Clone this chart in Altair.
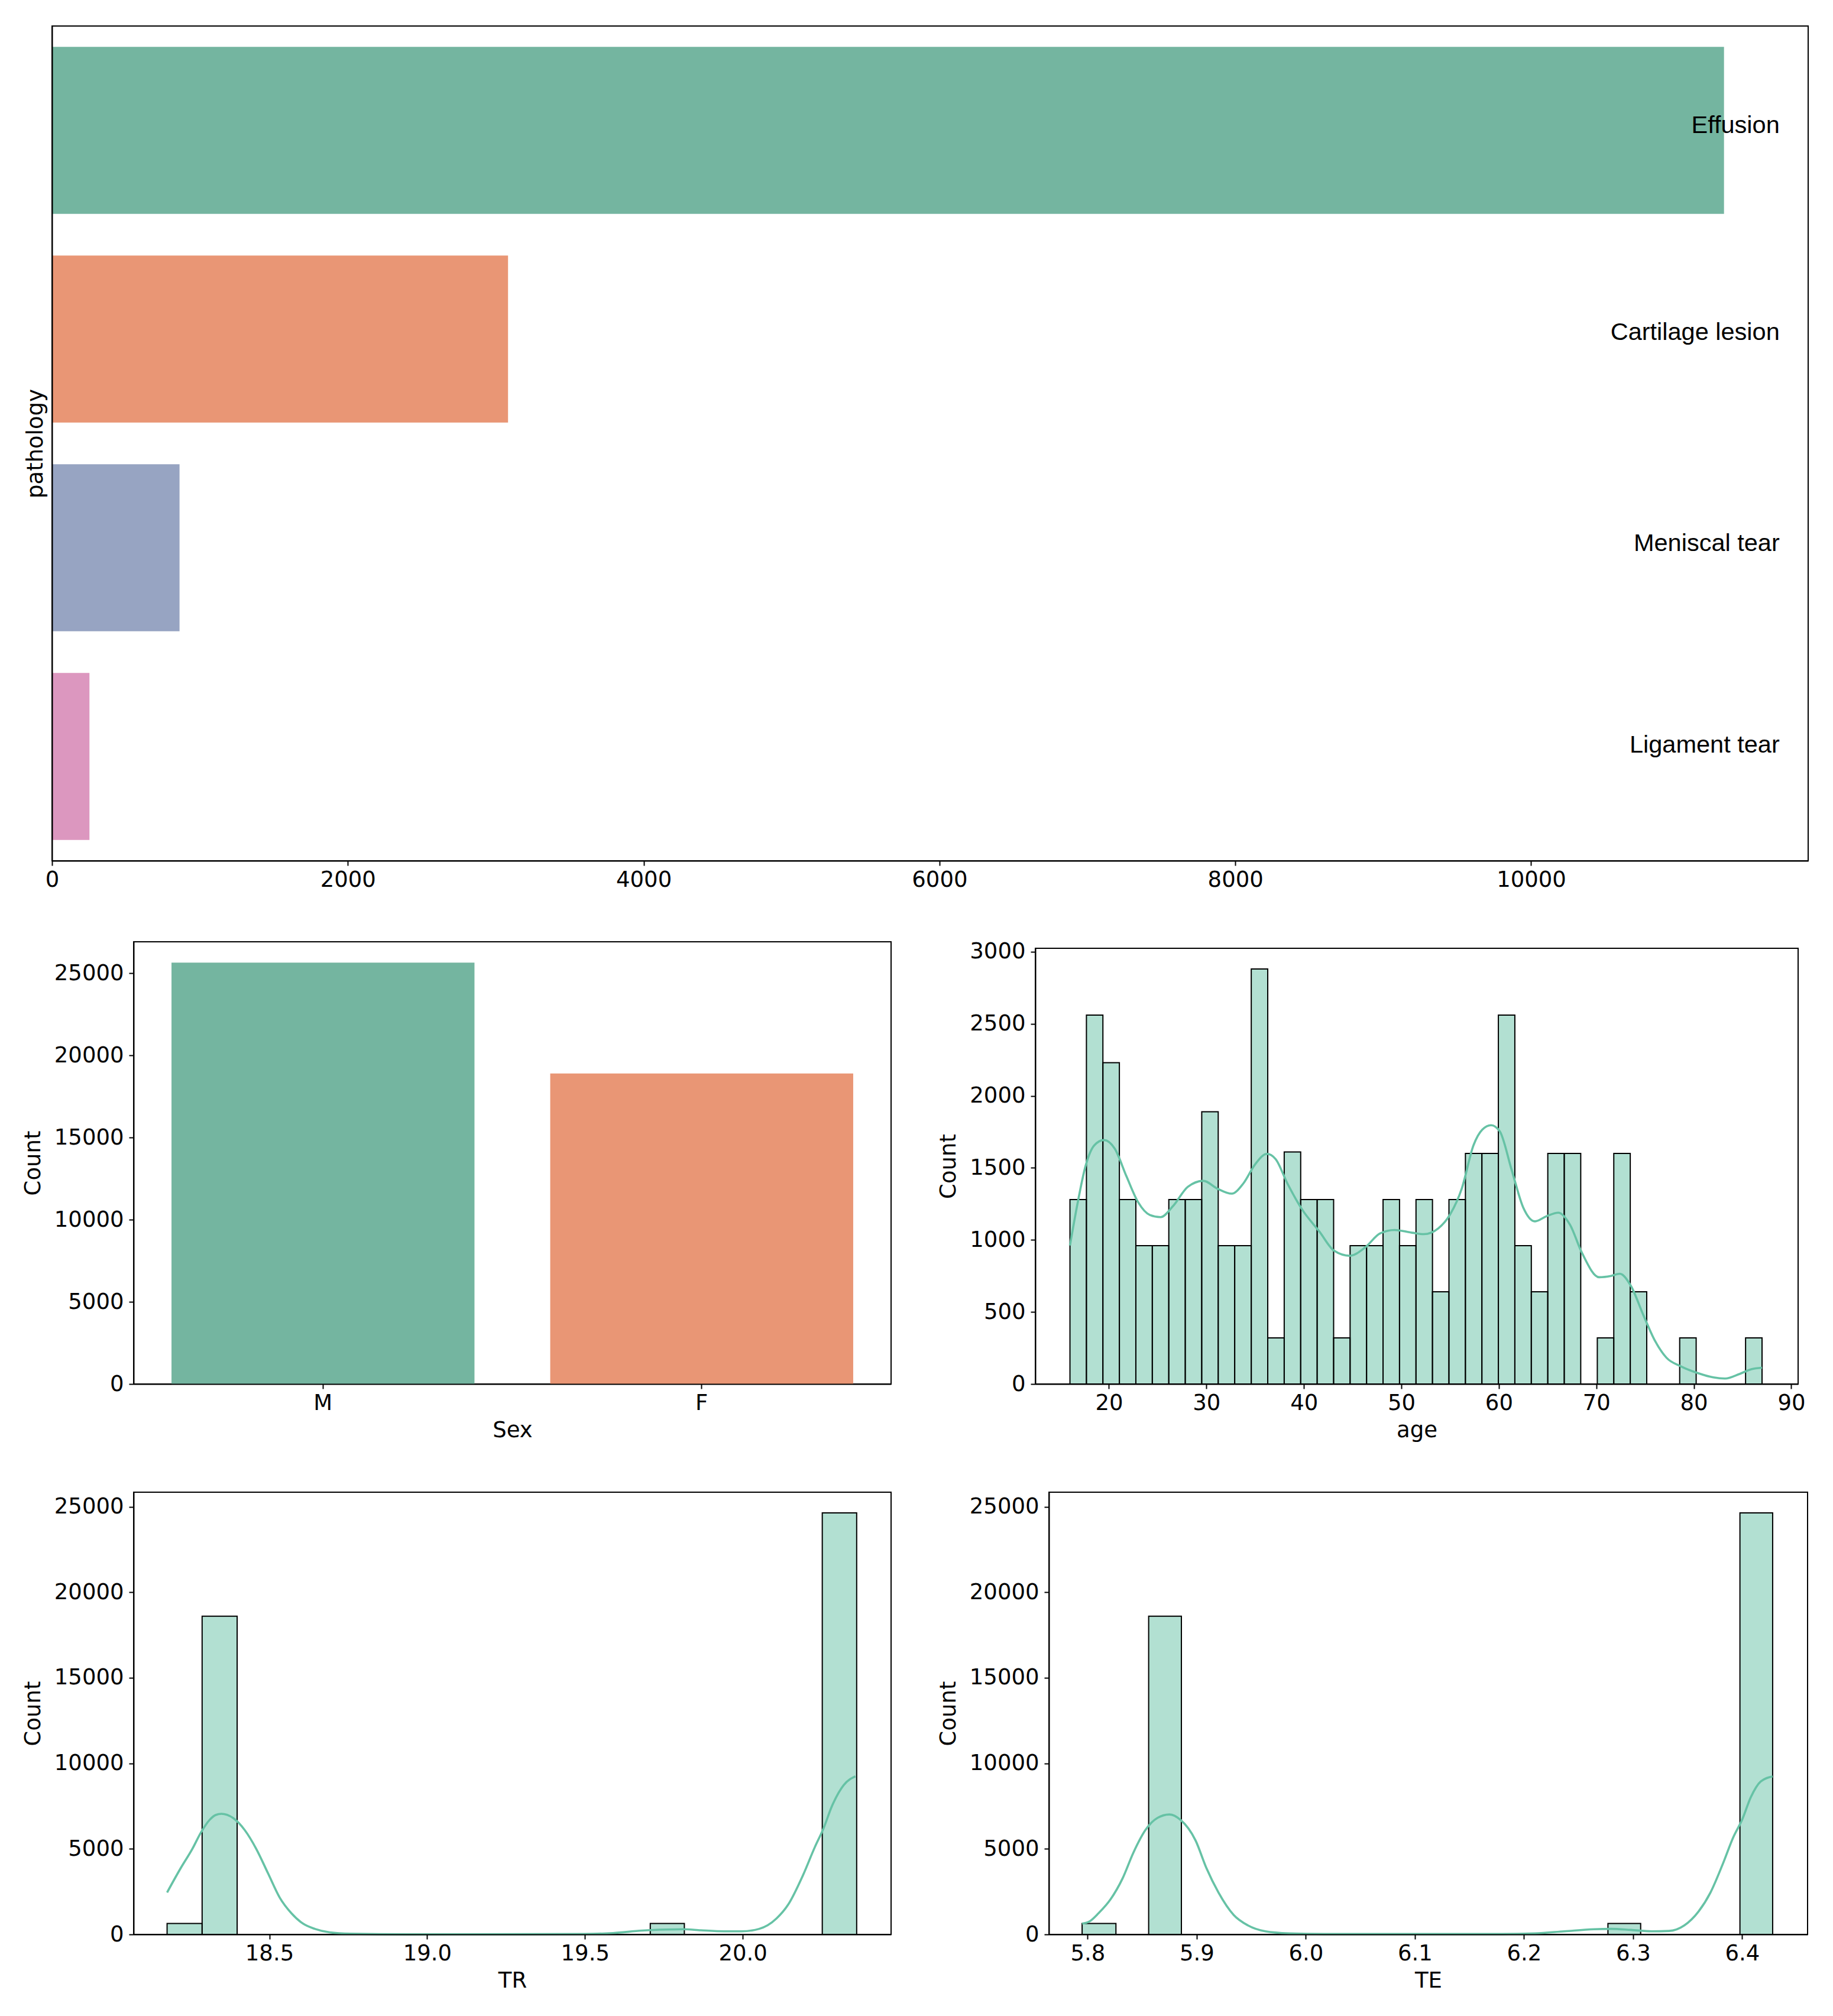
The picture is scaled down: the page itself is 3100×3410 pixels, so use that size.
import altair as alt
import pandas as pd

AXIS_FONT = "DejaVu Sans"
LABEL_FONT = "Liberation Sans"
TICK_SIZE = 37
BAR_FILL = "#66c2a5"

# Pathology counts
pathologies = ["Effusion", "Cartilage lesion", "Meniscal tear", "Ligament tear"]
pathology_counts = [11304, 3083, 862, 253]
pathology_colors = ["#74b5a0", "#e99675", "#97a4c2", "#dc97bf"]
label_shift = [-8, -11, -7, -19]

# Sex counts
sexes = ["M", "F"]
sex_counts = [25654, 18903]
sex_colors = ["#74b5a0", "#e99675"]

# Age histogram
age_edges = [16, 17.69, 19.38, 21.07, 22.76, 24.45, 26.14, 27.83, 29.52, 31.21, 32.9,
             34.6, 36.29, 37.98, 39.67, 41.36, 43.05, 44.74, 46.43, 48.12, 49.81, 51.5,
             53.19, 54.88, 56.57, 58.26, 59.95, 61.64, 63.33, 65.02, 66.71, 68.4, 70.1,
             71.79, 73.48, 75.17, 76.86, 78.55, 80.24, 81.93, 83.62, 85.31, 87]
age_counts = [1280, 2560, 2230, 1280, 960, 960, 1280, 1280, 1890, 960, 960, 2880, 320,
              1610, 1280, 1280, 320, 960, 960, 1280, 960, 1280, 640, 1280, 1600, 1600,
              2560, 960, 640, 1600, 1600, 0, 320, 1600, 640, 0, 0, 320, 0, 0, 0, 320]
age_kde_x = [16, 16.7, 17.6, 18.5, 19.5, 20.6, 21.8, 23, 24.2, 25.3, 26.6, 28.1, 29.7,
             31.1, 32.6, 33.8, 35, 36.2, 37.1, 38.3, 39.8, 41.6, 43.1, 44.7, 46.3, 47.8,
             49.3, 51.1, 52.3, 53.8, 55, 56.2, 57.4, 58.3, 59.2, 60.1, 61.3, 62.5, 63.7,
             64.9, 66.1, 67.3, 68.5, 70.3, 71.5, 72.4, 73.6, 74.8, 76, 77.2, 78.7, 80.5,
             82, 83.2, 84.7, 85.9, 87]
age_kde_y = [961, 1225, 1513, 1657, 1693, 1633, 1441, 1261, 1173, 1158, 1237, 1369, 1410,
             1357, 1321, 1393, 1525, 1597, 1561, 1393, 1213, 1057, 925, 890, 949, 1045,
             1069, 1050, 1040, 1081, 1177, 1357, 1657, 1765, 1796, 1753, 1489, 1225, 1129,
             1165, 1189, 1105, 914, 741, 750, 765, 674, 482, 302, 182, 122, 74, 46, 38,
             70, 103, 113]

# TR histogram
tr_start = [18.176, 18.287, 19.707, 20.252]
tr_end = [18.287, 18.398, 19.815, 20.361]
tr_counts = [640, 18600, 640, 24640]
tr_kde_x = [18.176, 18.219, 18.256, 18.283, 18.311, 18.33, 18.348, 18.385, 18.422, 18.459,
            18.496, 18.533, 18.57, 18.607, 18.644, 18.691, 18.756, 18.94, 19.496, 19.589,
            19.681, 19.756, 19.811, 19.867, 19.941, 19.996, 20.052, 20.107, 20.144, 20.191,
            20.228, 20.256, 20.283, 20.32, 20.357]
tr_kde_y = [2451, 3870, 5000, 5950, 6700, 6980, 7050, 6807, 6100, 4984, 3566, 2147, 1236, 628,
            324, 122, 40, 5, 20, 80, 223, 284, 304, 243, 182, 182, 324, 932, 1742, 3464, 5085,
            6200, 7516, 8733, 9238]

# TE histogram
te_start = [5.795, 5.856, 6.277, 6.398]
te_end = [5.826, 5.886, 6.307, 6.428]
te_counts = [640, 18600, 640, 24640]
te_kde_x = [5.795, 5.802, 5.81, 5.821, 5.832, 5.842, 5.853, 5.864, 5.875, 5.885, 5.899, 5.909,
            5.92, 5.934, 5.947, 5.963, 5.985, 6.017, 6.178, 6.21, 6.237, 6.264, 6.28, 6.298,
            6.317, 6.333, 6.347, 6.36, 6.371, 6.382, 6.392, 6.4, 6.408, 6.417, 6.428]
te_kde_y = [628, 770, 1236, 2046, 3262, 4781, 6098, 6807, 7010, 6706, 5490, 3870, 2451, 1134,
            527, 182, 60, 20, 20, 60, 182, 304, 324, 263, 182, 203, 528, 1337, 2451, 4072,
            5693, 6706, 8023, 8934, 9238]

count_ticks = [0, 5000, 10000, 15000, 20000, 25000]


def x_axis(title, values=None, fmt="d"):
    kwargs = {}
    if values is not None:
        kwargs["values"] = values
        kwargs["format"] = fmt
    return alt.Axis(title=title, grid=False, labelAngle=0, tickSize=8, tickWidth=2,
                    tickColor="black", domainColor="black", domainWidth=2, labelFlush=False,
                    labelOverlap=False, labelPadding=6, titlePadding=10, zindex=1, **kwargs)


def y_axis(values):
    return alt.Axis(title="Count", values=values, format="d", grid=False, tickSize=8, tickWidth=2,
                    tickColor="black", domainColor="black", domainWidth=2, labelFlush=False,
                    labelOverlap=False, labelPadding=9, titlePadding=16, zindex=1)


def spacer(width, height=1):
    # Empty cell, only there to push the plots to their place in the row
    return (
        alt.Chart(pd.DataFrame({"x": [0]}))
        .mark_point(opacity=0)
        .encode(x=alt.value(0), y=alt.value(0))
        .properties(width=width, height=height, view=alt.ViewBackground(stroke="transparent"))
    )


def hist_panel(start, end, counts, kde_x, kde_y, name, x_dom, y_top, x_ticks, y_ticks,
               width, height, fmt="d"):
    bars = pd.DataFrame({"start": start, "end": end, "count": counts})
    kde = pd.DataFrame({"x": kde_x, "y": kde_y})
    x_scale = alt.Scale(domain=x_dom, nice=False, zero=False)
    y_scale = alt.Scale(domain=[0, y_top], nice=False)
    base = (
        alt.Chart(bars)
        .mark_rect(fill=BAR_FILL, fillOpacity=0.5, stroke="black", strokeWidth=2)
        .encode(
            alt.X("start:Q", scale=x_scale, axis=x_axis(name, x_ticks, fmt)),
            alt.X2("end:Q"),
            alt.Y("count:Q", scale=y_scale, axis=y_axis(y_ticks)),
            alt.Y2(datum=0),
        )
    )
    line = (
        alt.Chart(kde)
        .mark_line(color=BAR_FILL, strokeWidth=3.6, interpolate="monotone")
        .encode(alt.X("x:Q", scale=x_scale), alt.Y("y:Q", scale=y_scale))
    )
    return alt.layer(base, line).properties(width=width, height=height)


# Top pathology panel
path_df = pd.DataFrame({"pathology": pathologies, "count": pathology_counts})
path_y = alt.Y(
    "pathology:N",
    sort=pathologies,
    scale=alt.Scale(domain=pathologies, paddingInner=0.2, paddingOuter=0.1),
    axis=alt.Axis(title="pathology", labels=False, ticks=False, grid=False, domainColor="black",
                  domainWidth=2, titlePadding=9, zindex=1),
)
path_bars = (
    alt.Chart(path_df)
    .mark_bar()
    .encode(
        alt.X("count:Q", scale=alt.Scale(domain=[0, 11873], nice=False),
              axis=x_axis(None, list(range(0, 12000, 2000)))),
        path_y,
        alt.Color("pathology:N", scale=alt.Scale(domain=pathologies, range=pathology_colors),
                  legend=None),
    )
)
path_layers = [path_bars]
for name, shift in zip(pathologies, label_shift):
    path_layers.append(
        alt.Chart(pd.DataFrame({"pathology": [name]}))
        .mark_text(align="right", baseline="middle", dy=shift, fontSize=41.5, font=LABEL_FONT,
                   color="black")
        .encode(x=alt.datum(11680), y=alt.Y("pathology:N", sort=pathologies), text="pathology:N")
    )
top = alt.layer(*path_layers).properties(width=2970, height=1412)

# Sex panel
sex_df = pd.DataFrame({"sex": sexes, "count": sex_counts})
sex = (
    alt.Chart(sex_df)
    .mark_bar()
    .encode(
        alt.X("sex:N", sort=sexes,
              scale=alt.Scale(domain=sexes, paddingInner=0.2, paddingOuter=0.1),
              axis=x_axis("Sex")),
        alt.Y("count:Q", scale=alt.Scale(domain=[0, 26920], nice=False), axis=y_axis(count_ticks)),
        alt.Color("sex:N", scale=alt.Scale(domain=sexes, range=sex_colors), legend=None),
    )
    .properties(width=1281, height=748)
)

age = hist_panel(age_edges[:-1], age_edges[1:], age_counts, age_kde_x, age_kde_y, "age",
                 [12.45, 90.7], 3024, list(range(20, 100, 10)), list(range(0, 3500, 500)),
                 1290, 737)
tr = hist_panel(tr_start, tr_end, tr_counts, tr_kde_x, tr_kde_y, "TR",
                [18.07, 20.47], 25850, [18.5, 19.0, 19.5, 20.0], count_ticks, 1281, 748, fmt=".1f")
te = hist_panel(te_start, te_end, te_counts, te_kde_x, te_kde_y, "TE",
                [5.7646, 6.46], 25850, [5.8, 5.9, 6.0, 6.1, 6.2, 6.3, 6.4], count_ticks, 1283, 748,
                fmt=".1f")

age_cell = alt.vconcat(spacer(1, 11), age, spacing=0, bounds="flush")
row2 = alt.hconcat(spacer(138), sex, spacer(244), age_cell, spacing=0, bounds="flush")
row3 = alt.hconcat(spacer(138), tr, spacer(267), te, spacing=0, bounds="flush")

chart = (
    alt.vconcat(top, row2, row3, spacing=82)
    .properties(padding={"left": 28, "top": 35, "right": 0, "bottom": 0}, background="white")
    .configure_view(stroke="black", strokeWidth=2)
    .configure_axis(labelFont=AXIS_FONT, titleFont=AXIS_FONT, labelFontSize=TICK_SIZE,
                    titleFontSize=TICK_SIZE, labelColor="black", titleColor="black",
                    titleFontWeight="normal")
)

chart.save("out.html", embed_options={"renderer": "svg", "actions": False})
